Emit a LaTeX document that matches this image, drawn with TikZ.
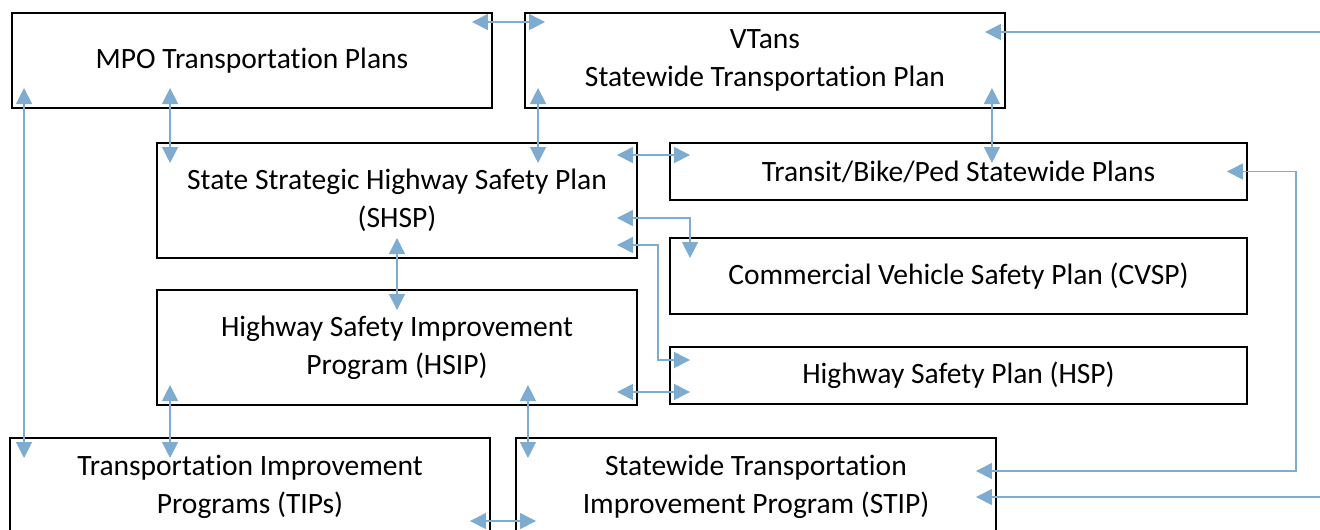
\documentclass[tikz,border=0pt]{standalone}
\usepackage{fontspec}
\setmainfont{Carlito}[Ligatures=NoCommon]
\usepackage{tikz}
\usetikzlibrary{arrows.meta, calc}
\definecolor{linkblue}{RGB}{125, 172, 208}

\begin{document}
\begin{tikzpicture}[x=0.02cm, y=-0.02cm,
    every node/.style={font=\fontsize{16.8}{21.6}\selectfont},
    box/.style={draw, line width=1.1pt, align=center, inner sep=0pt, outer sep=0pt},
    wide/.style={box, minimum width=9.6cm},
    long/.style={box, minimum width=11.54cm},
    duo/.style={{Triangle[length=0.32cm, width=0.32cm]}-{Triangle[length=0.32cm, width=0.32cm]}, linkblue, line width=0.8pt, shorten <=-0.4cm, shorten >=-0.4cm},
    one/.style={-{Triangle[length=0.32cm, width=0.32cm]}, linkblue, line width=0.8pt, shorten >=-0.4cm}]
        \useasboundingbox (0,0) rectangle (1320,529);

        \node[wide, minimum height=1.9cm] (mpo) at (252,60.5) {MPO Transportation Plans};
        \node[wide, minimum height=1.9cm] (vtans) at (765,60.5) {VTans\\Statewide Transportation Plan};
        \node[wide, minimum height=2.3cm] (shsp) at (397,200.5) {State Strategic Highway Safety Plan\\(SHSP)};
        \node[long, minimum height=1.14cm] (transit) at (958.5,171.5) {Transit/Bike/Ped Statewide Plans};
        \node[long, minimum height=1.52cm] (cvsp) at (958.5,276) {Commercial Vehicle Safety Plan (CVSP)};
        \node[wide, minimum height=2.3cm] (hsip) at (397,347.5) {Highway Safety Improvement\\Program (HSIP)};
        \node[long, minimum height=1.14cm] (hsp) at (958.5,375.5) {Highway Safety Plan (HSP)};
        \node[wide, minimum height=1.96cm] (tips) at (250,487) {Transportation Improvement\\Programs (TIPs)};
        \node[wide, minimum height=1.96cm] (stip) at (756,487) {Statewide Transportation\\Improvement Program (STIP)};

        \coordinate (inA) at (1320,32);
        \coordinate (inB) at (1320,497);
        \coordinate (colA) at ($(mpo.south west)+(12,0)$);
        \coordinate (colB) at ($(mpo.south west)+(158,0)$);
        \coordinate (colC) at ($(vtans.south west)+(13,0)$);
        \coordinate (colD) at ($(vtans.south east)+(-13,0)$);
        \coordinate (colE) at ($(hsip.south west)+(13,0)$);
        \coordinate (colF) at ($(hsip.south east)+(-109,0)$);
        \coordinate (rowA) at ($(mpo.north east)+(0,9)$);
        \coordinate (rowB) at ($(shsp.north east)+(0,12)$);
        \coordinate (rowC) at ($(hsip.south east)+(0,-13)$);
        \coordinate (rowD) at ($(tips.north east)+(0,83)$);

        \draw[duo] (rowA) -- (rowA -| vtans.west);
        \draw[one] (inA) -- (inA -| vtans.east);
        \draw[duo] (colA) -- (colA |- tips.north);
        \draw[duo] (colB) -- (colB |- shsp.north);
        \draw[duo] (colC) -- (colC |- shsp.north);
        \draw[duo] (colD) -- (colD |- transit.north);
        \draw[duo] (rowB) -- (rowB -| transit.west);
        \draw[duo] ($(shsp.north east)+(0,75)$) -| ($(cvsp.north west)+(20,0)$);
        \draw[duo] ($(shsp.north east)+(0,102)$) -- ++(21,0) |- ($(hsp.north west)+(0,13)$);
        \draw[duo] (shsp.south) -- (shsp.south |- hsip.north);
        \draw[duo] (rowC) -- (rowC -| hsp.west);
        \draw[duo] (colE) -- (colE |- tips.north);
        \draw[duo] (colF) -- (colF |- stip.north);
        \draw[duo] (rowD) -- (rowD -| stip.west);
        \draw[duo] ($(stip.north east)+(0,33)$) -- ++(300,0) |- (transit.east);
        \draw[one] (inB) -- (inB -| stip.east);
    \end{tikzpicture}
\end{document}
